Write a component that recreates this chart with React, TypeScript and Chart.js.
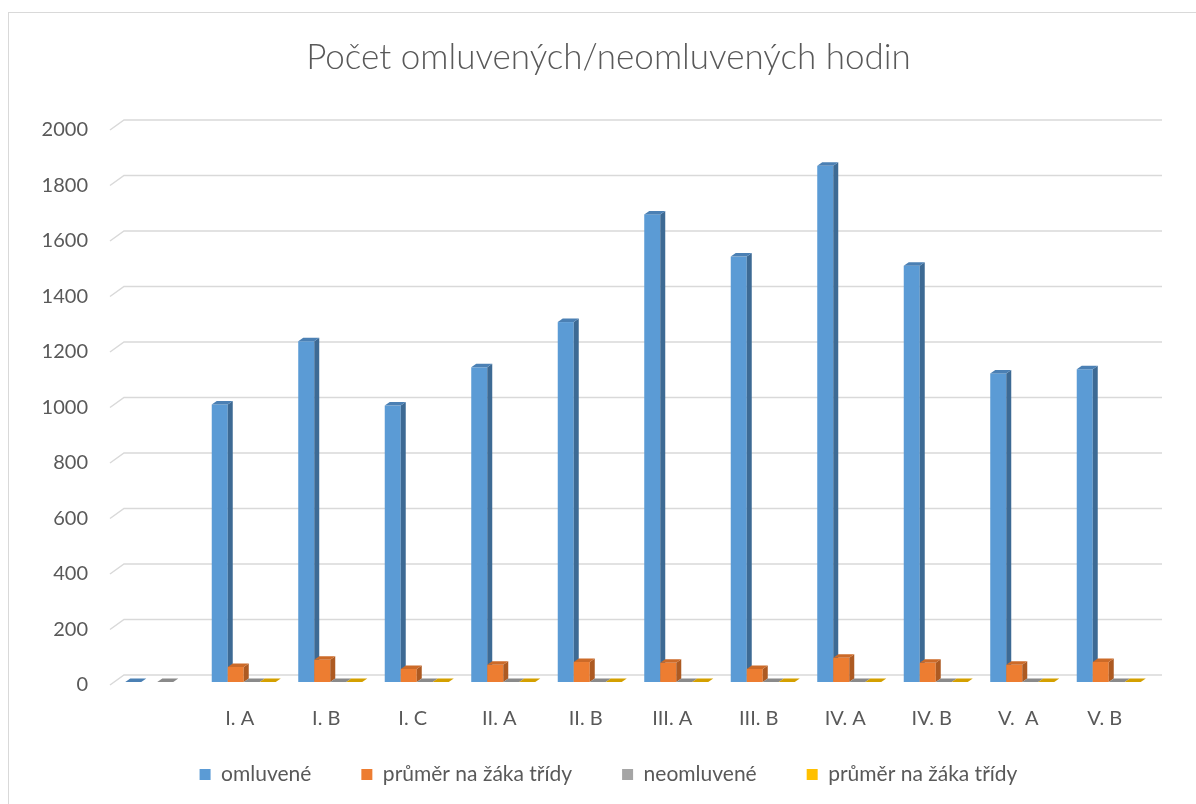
import React, { useEffect, useRef } from 'react';
import { Chart, registerables } from 'chart.js';

Chart.register(...registerables);

const categories = ['', 'I. A', 'I. B', 'I. C', 'II. A', 'II. B', 'III. A', 'III. B', 'IV. A', 'IV. B', 'V.  A', 'V. B'];
const omluvene = [0, 1000, 1228, 996, 1134, 1297, 1685, 1533, 1860, 1500, 1112, 1127];
const prumerOmluvene = [null, 54, 80, 47, 62, 72, 69, 47, 87, 69, 62, 72];
const neomluvene = [0, 0, 0, 0, 0, 0, 0, 0, 0, 0, 0, 0];
const prumerNeomluvene = [null, 0, 0, 0, 0, 0, 0, 0, 0, 0, 0, 0];
const seriesNames = ['omluvené', 'průměr na žáka třídy', 'neomluvené', 'průměr na žáka třídy'];
const yMin = 0;
const yMax = 2000;
const yStep = 200;
const titleText = 'Počet omluvených/neomluvených hodin';

const frontColors = ['#5B9BD5', '#ED7D31', '#A5A5A5', '#FFC000'];
const sideColors = ['#3D6A94', '#AD5A22', '#787878', '#BA8C00'];
const topColors = ['#4B80B4', '#CC6A28', '#8A8A8A', '#D4A000'];

const FONT = 'Lato, "Noto Sans", sans-serif';
const TEXT = '#595959';
const GRID = '#D9D9D9';
const GDX = 14, GDY = -10; // wall depth
const BDX = 5, BDY = -3.5; // bar depth
const BOX = 4, BOY = -3; // bar offset into depth

const bar3d = {
  id: 'bar3d',
  afterLayout(chart: any) {
    // let tick labels extend beyond their compact boxes without clipping
    chart.scales.y.left = 0;
    chart.scales.x.bottom = chart.height;
  },
  beforeDatasetsDraw(chart: any) {
    const { ctx, chartArea, scales } = chart;
    const ys = scales.y;
    ctx.save();
    ctx.strokeStyle = GRID;
    ctx.lineWidth = 1.5;
    ys.ticks.forEach((_t: any, i: number) => {
      const y = ys.getPixelForTick(i);
      ctx.beginPath();
      ctx.moveTo(chartArea.left, y);
      ctx.lineTo(chartArea.left + GDX, y + GDY);
      ctx.lineTo(chartArea.right + GDX, y + GDY);
      ctx.stroke();
    });
    const n = chart.data.labels.length;
    const nd = chart.data.datasets.length;
    for (let i = 0; i < n; i++) {
      for (let d = 0; d < nd; d++) {
        const v = chart.data.datasets[d].data[i];
        if (v === null || v === undefined) continue;
        const el = chart.getDatasetMeta(d).data[i];
        const p = el.getProps(['x', 'y', 'base', 'width'], true);
        const l = p.x - p.width / 2 + BOX;
        const r = p.x + p.width / 2 + BOX;
        const t = Math.min(p.y, p.base) + BOY;
        const b = Math.max(p.y, p.base) + BOY;
        if (b - t > 0.5) {
          ctx.fillStyle = frontColors[d];
          ctx.fillRect(l, t, r - l, b - t);
          ctx.fillStyle = sideColors[d];
          ctx.beginPath();
          ctx.moveTo(r, t);
          ctx.lineTo(r + BDX, t + BDY);
          ctx.lineTo(r + BDX, b + BDY);
          ctx.lineTo(r, b);
          ctx.closePath();
          ctx.fill();
        }
        ctx.fillStyle = topColors[d];
        ctx.beginPath();
        ctx.moveTo(l, t);
        ctx.lineTo(l + BDX, t + BDY);
        ctx.lineTo(r + BDX, t + BDY);
        ctx.lineTo(r, t);
        ctx.closePath();
        ctx.fill();
      }
    }
    ctx.restore();
    return false;
  },
};

export default function App() {
  const ref = useRef<HTMLCanvasElement>(null);
  useEffect(() => {
    if (!ref.current) return;
    const series = [omluvene, prumerOmluvene, neomluvene, prumerNeomluvene];
    const chart = new Chart(ref.current, {
      type: 'bar',
      data: {
        labels: categories,
        datasets: series.map((s, i) => ({
          label: seriesNames[i],
          data: s as any,
          backgroundColor: frontColors[i],
          borderWidth: 0,
          categoryPercentage: 0.74,
          barPercentage: 1.0,
        })),
      },
      options: {
        animation: false,
        responsive: false,
        maintainAspectRatio: false,
        events: [],
        layout: { padding: { left: 69, right: 48, top: 0, bottom: 9 } },
        plugins: {
          title: {
            display: true,
            text: titleText,
            color: TEXT,
            font: { family: FONT, size: 35, weight: 300 as any },
            padding: { top: 37, bottom: 51 },
          },
          legend: {
            position: 'bottom',
            labels: {
              color: TEXT,
              font: { family: FONT, size: 21 },
              boxWidth: 11,
              boxHeight: 11,
              padding: 50,
            },
          },
          tooltip: { enabled: false },
        },
        scales: {
          x: {
            grid: { display: false, drawTicks: false },
            border: { display: false },
            ticks: { color: TEXT, font: { family: FONT, size: 20 }, padding: 22, autoSkip: false, maxRotation: 0 },
            afterFit(scale: any) { scale.height = 29; },
          },
          y: {
            min: yMin,
            max: yMax,
            grid: { display: false, drawTicks: false },
            border: { display: false },
            ticks: {
              stepSize: yStep,
              color: TEXT,
              font: { family: FONT, size: 20 },
              padding: 22,
              callback: (v: any) => String(v),
            },
            afterFit(scale: any) { scale.width = 41; },
          },
        },
      },
      plugins: [bar3d],
    });
    return () => chart.destroy();
  }, []);
  return (
    <div style={{ position: 'absolute', left: 0, top: 0, width: 1196, height: 804, overflow: 'hidden', background: '#fff' }}>
      <div style={{ position: 'absolute', left: 8, top: 12, width: 1300, height: 900, borderLeft: '1.5px solid #D9D9D9', borderTop: '1.5px solid #D9D9D9' }} />
      <canvas ref={ref} width={1196} height={804} style={{ position: 'absolute', left: 0, top: 0, width: 1196, height: 804 }} />
    </div>
  );
}
